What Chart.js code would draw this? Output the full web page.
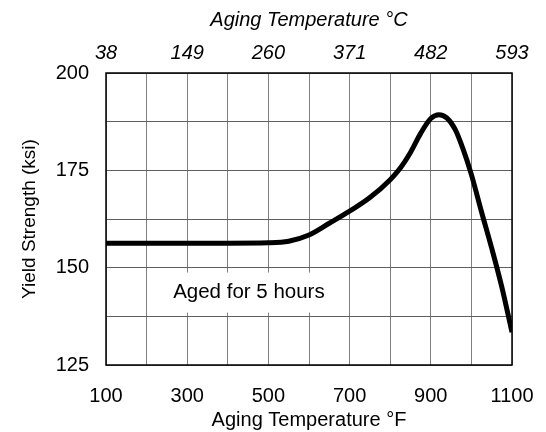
<!DOCTYPE html>
<html>
<head>
<meta charset="utf-8">
<script src="https://cdn.jsdelivr.net/npm/chart.js@4/dist/chart.umd.min.js"></script>
<style>
  html, body { margin: 0; padding: 0; background: #fff; }
  #wrap { width: 546px; height: 432px; }
</style>
</head>
<body>
<div id="wrap"><canvas id="yieldChart" width="546" height="432"></canvas></div>
<script>
// aging temperature (F) vs yield strength (ksi)
var tempF = [100, 200, 300, 400, 500, 550, 600, 650, 700, 750, 800, 825, 850, 875, 900, 920, 940, 960, 980, 1000, 1025, 1050, 1075, 1100];
var yieldKsi = [156.3, 156.3, 156.3, 156.3, 156.4, 156.8, 158.4, 161.4, 164.5, 168.0, 172.6, 175.6, 179.6, 184.5, 188.3, 189.3, 188.4, 185.5, 180.3, 173.9, 164.3, 155.0, 145.0, 133.4];

// labelled ticks
var fTicks = [100, 300, 500, 700, 900, 1100];
var cTicks = ['38', '149', '260', '371', '482', '593'];
var ksiTicks = [125, 150, 175, 200];

var noteText = 'Aged for 5 hours';
var noteAt = { x: 452, y: 143.6 };

var FONT = "'Liberation Sans', Arial, sans-serif";

var frameAndNote = {
    id: 'frameAndNote',
    afterDatasetsDraw: function (chart) {
        var ctx = chart.ctx;
        var a = chart.chartArea;
        var px = chart.scales.x.getPixelForValue(noteAt.x);
        var py = chart.scales.y.getPixelForValue(noteAt.y);
        ctx.save();
        ctx.font = '20.5px ' + FONT;
        var w = ctx.measureText(noteText).width;
        ctx.fillStyle = '#fff';
        ctx.fillRect(px - w / 2 - 24, py - 20, w + 30, 40);
        ctx.fillStyle = '#000';
        ctx.textAlign = 'center';
        ctx.textBaseline = 'middle';
        ctx.fillText(noteText, px, py);
        ctx.strokeStyle = '#000';
        ctx.lineWidth = 1.5;
        ctx.strokeRect(a.left, a.top, a.right - a.left, a.bottom - a.top);
        ctx.restore();
    }
};

var chart = new Chart(document.getElementById('yieldChart').getContext('2d'), {
    type: 'line',
    data: {
        datasets: [{
            label: 'Yield Strength',
            data: tempF.map(function (t, i) { return { x: t, y: yieldKsi[i] }; }),
            borderColor: '#000',
            borderWidth: 5,
            pointRadius: 0,
            fill: false,
            cubicInterpolationMode: 'monotone'
        }]
    },
    options: {
        responsive: false,
        animation: false,
        layout: { padding: { left: 0, right: 34, top: 0, bottom: 0 } },
        scales: {
            x: {
                type: 'linear',
                position: 'bottom',
                min: 100,
                max: 1100,
                afterFit: function (s) { s.height = 67; s.paddingLeft = 0; s.paddingRight = 0; },
                grid: { color: '#808080', lineWidth: 1, drawTicks: false },
                border: { display: false },
                ticks: {
                    stepSize: 100,
                    autoSkip: false,
                    maxRotation: 0,
                    padding: 19,
                    color: '#000',
                    font: { family: FONT, size: 20 },
                    callback: function (val) {
                        return fTicks.indexOf(val) >= 0 ? String(val) : '';
                    }
                },
                title: {
                    display: true,
                    text: 'Aging Temperature °F',
                    color: '#000',
                    font: { family: FONT, size: 20 },
                    padding: { top: 0, bottom: 0 }
                }
            },
            xTop: {
                type: 'linear',
                position: 'top',
                min: 100,
                max: 1100,
                afterFit: function (s) { s.height = 73; s.paddingLeft = 0; s.paddingRight = 0; },
                grid: { display: false, drawTicks: false },
                border: { display: false },
                ticks: {
                    stepSize: 200,
                    autoSkip: false,
                    maxRotation: 0,
                    padding: 8,
                    color: '#000',
                    font: { family: FONT, size: 20, style: 'italic' },
                    callback: function (val) {
                        var i = fTicks.indexOf(val);
                        return i >= 0 ? cTicks[i] : '';
                    }
                },
                title: {
                    display: true,
                    text: 'Aging Temperature °C',
                    color: '#000',
                    font: { family: FONT, size: 20, style: 'italic' },
                    padding: { top: 8, bottom: 0 }
                }
            },
            y: {
                min: 125,
                max: 200,
                afterFit: function (s) { s.width = 106; },
                grid: { color: '#606060', lineWidth: 1, drawTicks: false },
                border: { display: false },
                ticks: {
                    stepSize: 12.5,
                    autoSkip: false,
                    padding: 17,
                    color: '#000',
                    font: { family: FONT, size: 20 },
                    callback: function (val) {
                        return ksiTicks.indexOf(val) >= 0 ? String(val) : '';
                    }
                },
                title: {
                    display: true,
                    text: 'Yield Strength (ksi)',
                    color: '#000',
                    font: { family: FONT, size: 19 },
                    padding: { top: 18, bottom: 0 }
                }
            }
        },
        plugins: {
            legend: { display: false },
            tooltip: { enabled: false }
        }
    },
    plugins: [frameAndNote]
});
</script>
</body>
</html>
